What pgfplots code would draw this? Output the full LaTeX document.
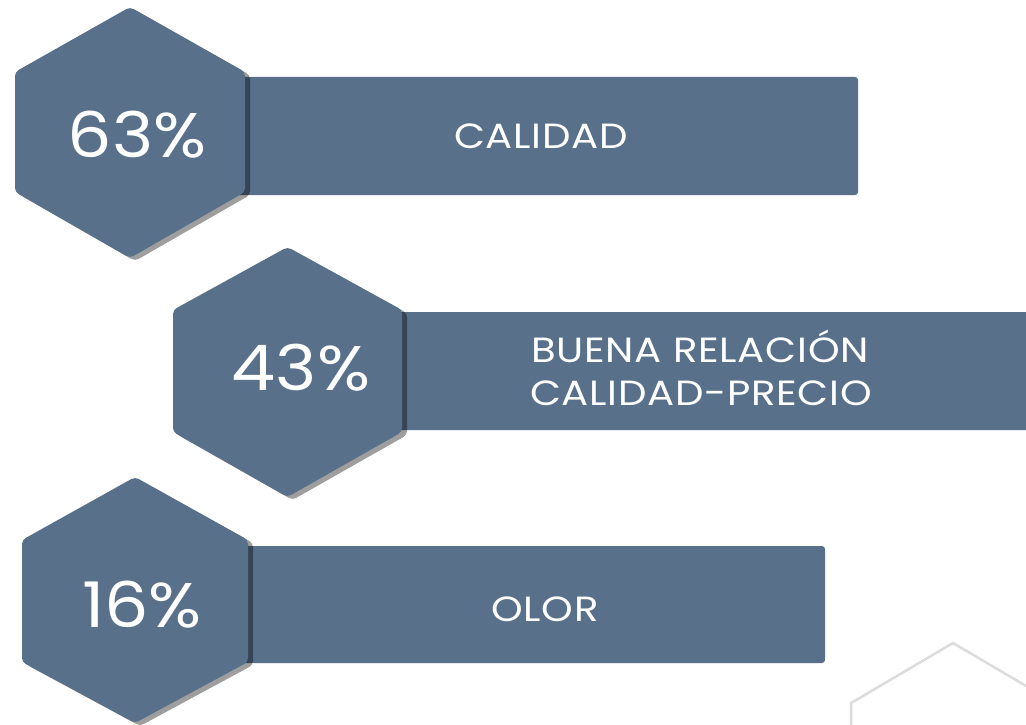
\documentclass[border=0pt]{standalone}
\usepackage{pgfplots}
\pgfplotsset{compat=1.18}
\usepackage{fontspec}
\setmainfont{Poppins}
\newfontfamily\pctfont[FakeStretch=1.11]{Poppins}
\newfontfamily\labfont[FakeStretch=1.15, LetterSpace=2]{Poppins}
\definecolor{slate}{HTML}{58708A}
\definecolor{hexline}{HTML}{DCDCDC}
\begin{document}
\begin{tikzpicture}
\begin{axis}[x=1pt, y=1pt, y dir=reverse,
  xmin=0, xmax=1026, ymin=0, ymax=725,
  hide axis, no markers, clip=true]
\addplot[draw=none, forget plot] coordinates {(0,0) (1026,725)};
% faint outline hexagon (bottom right)
\addplot[hexline, line width=2.5pt] coordinates {(851,760) (851,703) (953,643) (1055,703) (1055,760)};
% bars
\addplot[fill=slate, draw=none, rounded corners=3pt] coordinates {(235,77) (858,77) (858,195) (235,195)} -- cycle;
\addplot[fill=slate, draw=none, rounded corners=3pt] coordinates {(392,312) (1045,312) (1045,430) (392,430)} -- cycle;
\addplot[fill=slate, draw=none, rounded corners=3pt] coordinates {(238,546) (825,546) (825,663) (238,663)} -- cycle;
% shadows
\addplot[fill=black, fill opacity=0.38, draw=none, rounded corners=4pt] coordinates {(135,10) (250,75) (250,195) (135,261) (20,195) (20,75)} -- cycle;
\addplot[fill=black, fill opacity=0.38, draw=none, rounded corners=4pt] coordinates {(292.5,250) (407,313) (407,435) (292.5,500) (178,435) (178,313)} -- cycle;
\addplot[fill=black, fill opacity=0.38, draw=none, rounded corners=4pt] coordinates {(140,480) (253,543) (253,665) (140,726) (27,665) (27,543)} -- cycle;
% hexagons
\addplot[fill=slate, draw=none, rounded corners=4pt] coordinates {(130,7) (245,72) (245,192) (130,258) (15,192) (15,72)} -- cycle;
\addplot[fill=slate, draw=none, rounded corners=4pt] coordinates {(287.5,247) (402,310) (402,432) (287.5,497) (173,432) (173,310)} -- cycle;
\addplot[fill=slate, draw=none, rounded corners=4pt] coordinates {(135,477) (248,540) (248,662) (135,723) (22,662) (22,540)} -- cycle;
% texts
\node[anchor=base, text=white, inner sep=0pt, font=\pctfont\fontsize{63}{63}\selectfont] at (axis cs:137,157) {63\%};
\node[anchor=base, text=white, inner sep=0pt, font=\pctfont\fontsize{63}{63}\selectfont] at (axis cs:301,390) {43\%};
\node[anchor=base, text=white, inner sep=0pt, font=\pctfont\fontsize{63}{63}\selectfont] at (axis cs:142,627) {16\%};
\node[anchor=base, text=white, inner sep=0pt, font=\labfont\fontsize{35}{35}\selectfont] at (axis cs:541,148) {CALIDAD};
\node[anchor=base, text=white, inner sep=0pt, font=\labfont\fontsize{35}{35}\selectfont] at (axis cs:700,362) {BUENA RELACIÓN};
\node[anchor=base, text=white, inner sep=0pt, font=\labfont\fontsize{35}{35}\selectfont] at (axis cs:701,405) {CALIDAD-PRECIO};
\node[anchor=base, text=white, inner sep=0pt, font=\labfont\fontsize{35}{35}\selectfont] at (axis cs:545,621) {OLOR};
\end{axis}
\end{tikzpicture}
\end{document}
